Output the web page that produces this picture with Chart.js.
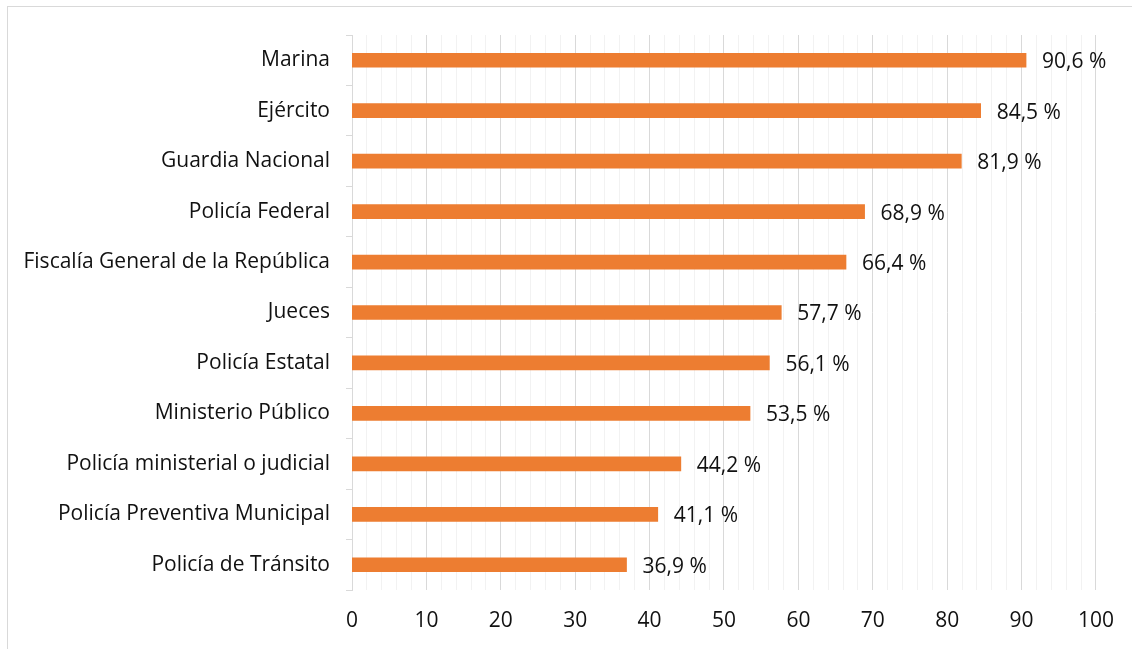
<!DOCTYPE html>
<html>
<head>
<meta charset="utf-8">
<script src="https://cdn.jsdelivr.net/npm/chart.js@4"></script>
<style>
  html, body { margin: 0; padding: 0; overflow: hidden; background: #fff; }
  #frame {
    position: absolute; left: 7px; top: 6px; width: 1300px; height: 800px;
    border: 1px solid #D9D9D9;
  }
  #wrap { position: absolute; left: 0; top: 0; width: 1132px; height: 649px; }
</style>
</head>
<body>
<div id="frame"></div>
<div id="wrap"><canvas id="chart"></canvas></div>
<script>
const categories = [
  "Marina",
  "Ejército",
  "Guardia Nacional",
  "Policía Federal",
  "Fiscalía General de la República",
  "Jueces",
  "Policía Estatal",
  "Ministerio Público",
  "Policía ministerial o judicial",
  "Policía Preventiva Municipal",
  "Policía de Tránsito"
];
const values = [90.6, 84.5, 81.9, 68.9, 66.4, 57.7, 56.1, 53.5, 44.2, 41.1, 36.9];

const FONT = "'Open Sans', sans-serif";
const TEXT = "#111111";
const SIZE = 21;

// value labels right of each bar, e.g. "90,6 %"
const barLabels = {
  id: "barLabels",
  afterDatasetsDraw(chart) {
    const ctx = chart.ctx;
    const meta = chart.getDatasetMeta(0);
    ctx.save();
    ctx.font = SIZE + "px " + FONT;
    ctx.fillStyle = TEXT;
    ctx.textAlign = "left";
    ctx.textBaseline = "middle";
    meta.data.forEach((bar, i) => {
      const txt = values[i].toFixed(1).replace(".", ",") + " %";
      ctx.fillText(txt, bar.x + 16, bar.y + 2);
    });
    ctx.restore();
  }
};

new Chart(document.getElementById("chart"), {
  type: "bar",
  data: {
    labels: categories,
    datasets: [{
      data: values,
      backgroundColor: "#ED7D31",
      barThickness: 14
    }]
  },
  options: {
    indexAxis: "y",
    responsive: true,
    maintainAspectRatio: false,
    animation: false,
    layout: { padding: { left: 0, right: 36, top: 35, bottom: 0 } },
    plugins: {
      legend: { display: false },
      tooltip: { enabled: false }
    },
    scales: {
      x: {
        min: 0,
        max: 100,
        afterBuildTicks(scale) {
          const t = [];
          for (let v = 0; v <= 100; v += 2) t.push({ value: v });
          scale.ticks = t;
        },
        afterFit(scale) { scale.height = 59; },
        border: { display: false },
        grid: {
          drawTicks: false,
          color: c => (c.tick && c.tick.value % 10 === 0) ? "#D9D9D9" : "#F2F2F2",
          lineWidth: c => (c.tick && c.tick.value === 0) ? 0 : 1
        },
        ticks: {
          autoSkip: false,
          maxRotation: 0,
          padding: 18,
          color: TEXT,
          font: { family: FONT, size: SIZE },
          callback: v => (v % 10 === 0 ? String(v) : "")
        }
      },
      y: {
        afterFit(scale) { scale.width = 352; },
        border: { display: true, color: "#D9D9D9", width: 1 },
        grid: {
          offset: true,
          drawOnChartArea: false,
          drawTicks: true,
          tickLength: 6,
          color: "#D9D9D9"
        },
        ticks: {
          padding: 16,
          color: TEXT,
          font: { family: FONT, size: SIZE }
        }
      }
    }
  },
  plugins: [barLabels]
});
</script>
</body>
</html>
